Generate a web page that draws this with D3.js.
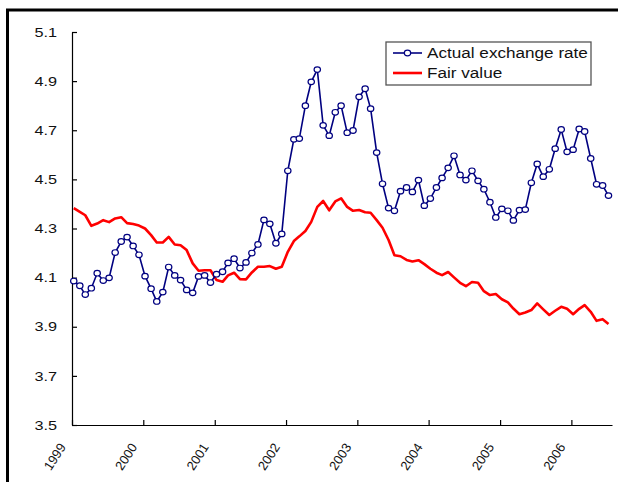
<!DOCTYPE html>
<html>
<head>
<meta charset="utf-8">
<script src="https://cdn.jsdelivr.net/npm/d3@7"></script>
<style>
  body { margin: 0; background: #fff; }
  svg { display: block; font-family: "Liberation Sans", Arial, sans-serif; }
  .axis path, .axis line { stroke: #000; stroke-width: 1.2; }
  .axis text { fill: #111; font-size: 13px; }
</style>
</head>
<body>
<svg width="618" height="482"></svg>
<script>
// monthly observations, Jan 1999 .. Jul 2006
const startYear = 1999
const nMonths = 91
const yTicks = [3.5, 3.7, 3.9, 4.1, 4.3, 4.5, 4.7, 4.9, 5.1]
const seriesNames = ["Actual exchange rate", "Fair value"]

const actual = [
  4.086, 4.067, 4.031, 4.057, 4.118, 4.088, 4.099, 4.202, 4.247, 4.265, 4.229, 4.193,
  4.106, 4.055, 4.003, 4.041, 4.143, 4.109, 4.090, 4.050, 4.038, 4.105, 4.109, 4.080,
  4.114, 4.124, 4.160, 4.177, 4.139, 4.162, 4.200, 4.235, 4.335, 4.319, 4.240, 4.278,
  4.535, 4.663, 4.666, 4.800, 4.897, 4.947, 4.720, 4.678, 4.773, 4.800, 4.690, 4.699,
  4.836, 4.869, 4.788, 4.609, 4.482, 4.383, 4.372, 4.452, 4.467, 4.449, 4.497, 4.393,
  4.422, 4.467, 4.506, 4.547, 4.596, 4.518, 4.497, 4.535, 4.494, 4.460, 4.407, 4.345,
  4.380, 4.372, 4.333, 4.375, 4.377, 4.486, 4.563, 4.511, 4.541, 4.625, 4.703, 4.612,
  4.621, 4.705, 4.695, 4.585, 4.480, 4.475, 4.434
]

const fair = [
  4.383, 4.368, 4.354, 4.311, 4.320, 4.334, 4.326, 4.341, 4.346, 4.322, 4.318, 4.312,
  4.300, 4.273, 4.243, 4.243, 4.266, 4.235, 4.232, 4.212, 4.158, 4.128, 4.130, 4.130,
  4.090, 4.083, 4.109, 4.120, 4.094, 4.093, 4.121, 4.144, 4.144, 4.147, 4.136, 4.144,
  4.205, 4.249, 4.268, 4.290, 4.327, 4.388, 4.412, 4.374, 4.410, 4.423, 4.388, 4.372,
  4.375, 4.366, 4.364, 4.334, 4.303, 4.253, 4.191, 4.187, 4.172, 4.166, 4.171, 4.155,
  4.136, 4.120, 4.110, 4.123, 4.101, 4.079, 4.065, 4.082, 4.079, 4.045, 4.029, 4.033,
  4.012, 3.999, 3.974, 3.951, 3.958, 3.968, 3.995, 3.971, 3.948, 3.965, 3.981, 3.973,
  3.951, 3.973, 3.988, 3.961, 3.924, 3.931, 3.911
]

const dates = d3.range(nMonths).map(i => new Date(startYear, i, 10))

const svg = d3.select("svg")

// outer frame (only left and top edges fall inside the picture)
svg.append("rect")
  .attr("x", 7.5).attr("y", 10)
  .attr("width", 700).attr("height", 600)
  .attr("fill", "none")
  .attr("stroke", "#000")
  .attr("stroke-width", 3)

const x = d3.scaleTime()
  .domain([new Date(startYear, 0, 1), new Date(2006, 6, 28)])
  .range([72, 612])

const y = d3.scaleLinear()
  .domain([3.5, 5.1])
  .range([425, 32])

// y axis
const yAxis = svg.append("g")
  .attr("class", "axis")
  .attr("transform", "translate(72,0)")
  .call(d3.axisLeft(y)
    .tickValues(yTicks)
    .tickFormat(d3.format(".1f"))
    .tickSizeInner(-5)
    .tickSizeOuter(0))

// labels look a bit wide in the original, stretch them sideways
yAxis.selectAll("text")
  .attr("x", 0)
  .attr("transform", "translate(-15,0) scale(1.25,1)")

// x axis
const xAxis = svg.append("g")
  .attr("class", "axis")
  .attr("transform", "translate(0,425)")
  .call(d3.axisBottom(x)
    .ticks(d3.timeYear.every(1))
    .tickFormat(d3.timeFormat("%Y"))
    .tickSizeInner(-5)
    .tickSizeOuter(0))

xAxis.selectAll("text")
  .attr("text-anchor", "end")
  .attr("dy", 0)
  .attr("y", 0)
  .attr("transform", "translate(-6,22) rotate(-57)")

// fair value line
const line = d3.line()
  .x((d, i) => x(dates[i]))
  .y(d => y(d))

svg.append("path")
  .datum(fair)
  .attr("fill", "none")
  .attr("stroke", "#ff0000")
  .attr("stroke-width", 2.6)
  .attr("stroke-linejoin", "round")
  .attr("d", line)

// actual exchange rate
svg.append("path")
  .datum(actual)
  .attr("fill", "none")
  .attr("stroke", "#000080")
  .attr("stroke-width", 1.6)
  .attr("d", line)

svg.append("g")
  .selectAll("ellipse")
  .data(actual)
  .join("ellipse")
  .attr("cx", (d, i) => x(dates[i]))
  .attr("cy", d => y(d))
  .attr("rx", 3.2)
  .attr("ry", 2.8)
  .attr("fill", "#fff")
  .attr("stroke", "#000080")
  .attr("stroke-width", 1.2)

// legend
const legend = svg.append("g")
legend.append("rect")
  .attr("x", 386).attr("y", 42)
  .attr("width", 205).attr("height", 43)
  .attr("fill", "#fff")
  .attr("stroke", "#555")
  .attr("stroke-width", 1.3)

legend.append("line")
  .attr("x1", 393).attr("x2", 422)
  .attr("y1", 53).attr("y2", 53)
  .attr("stroke", "#000080").attr("stroke-width", 1.6)
legend.append("ellipse")
  .attr("cx", 407.5).attr("cy", 53)
  .attr("rx", 3.2).attr("ry", 2.8)
  .attr("fill", "#fff").attr("stroke", "#000080").attr("stroke-width", 1.2)
legend.append("line")
  .attr("x1", 393).attr("x2", 422)
  .attr("y1", 73).attr("y2", 73)
  .attr("stroke", "#ff0000").attr("stroke-width", 2.6)

const legendText = legend.selectAll("text")
  .data(seriesNames)
  .join("text")
  .attr("x", 0)
  .attr("y", 0)
  .style("font-size", "15px")
  .attr("fill", "#111")
  .text(d => d)

// widen the legend text the same way, first label should reach the box edge
const sx = 161 / legendText.node().getComputedTextLength()
legendText.attr("transform", (d, i) => `translate(427,${58 + i * 20}) scale(${sx},1)`)
</script>
</body>
</html>
